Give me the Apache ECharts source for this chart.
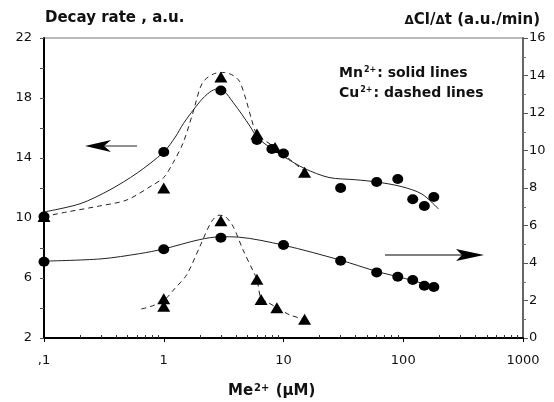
<!DOCTYPE html>
<html>
<head>
<meta charset="utf-8">
<script src="https://cdn.jsdelivr.net/npm/echarts@6/dist/echarts.min.js"></script>
<style>html,body{margin:0;padding:0;background:#fff}#c{width:554px;height:402px}</style>
</head>
<body>
<div id="c"></div>
<script>
// axis ticks
const xTicks = [0.1, 1, 10, 100, 1000];
const xTickLabels = [',1', '1', '10', '100', '1000'];
const leftTicks = [2, 6, 10, 14, 18, 22];
const leftMinorTicks = [2, 4, 6, 8, 10, 12, 14, 16, 18, 20, 22];

// decay rate (left axis)
const mnDecayX = [0.1, 1, 3, 6, 8, 10, 30, 60, 90, 120, 150, 180];
const mnDecayY = [10.1, 14.4, 18.5, 15.2, 14.6, 14.3, 12.0, 12.4, 12.6, 11.25, 10.8, 11.4];
const cuDecayX = [0.1, 1, 3, 6, 8.5, 15];
const cuDecayY = [10.1, 12.0, 19.4, 15.6, 14.7, 13.05];
const mnDecayFitX = [0.1, 0.2, 0.35, 0.6, 1, 1.25, 1.46, 2, 2.43, 2.8, 3.2, 3.8, 4.5, 5.3, 6, 8, 10, 15, 24, 40, 60, 96, 143, 197];
const mnDecayFitY = [10.4, 10.95, 11.85, 13.0, 14.4, 15.4, 16.3, 17.75, 18.4, 18.6, 18.45, 17.7, 16.9, 16.07, 15.4, 14.6, 14.1, 13.3, 12.7, 12.55, 12.4, 12.1, 11.6, 10.6];
const cuDecayFitX = [0.1, 0.155, 0.29, 0.49, 0.81, 1, 1.2, 1.45, 1.75, 2.1, 2.6, 3.2, 3.8, 4.3, 4.9, 5.4, 6, 8.5, 15];
const cuDecayFitY = [10.1, 10.4, 10.8, 11.2, 12.2, 12.7, 13.7, 15.0, 17.0, 19.0, 19.6, 19.7, 19.5, 19.1, 17.8, 16.6, 15.6, 14.7, 13.1];

// ΔCl/Δt (right axis)
const mnClX = [0.1, 1, 3, 10, 30, 60, 90, 120, 150, 180];
const mnClY = [4.07, 4.73, 5.35, 4.96, 4.12, 3.5, 3.27, 3.09, 2.79, 2.72];
const mnClFitX = [0.1, 0.3, 0.63, 1, 2, 3, 4.2, 10, 30, 60, 100, 185];
const mnClFitY = [4.1, 4.22, 4.5, 4.75, 5.25, 5.4, 5.38, 4.95, 4.15, 3.55, 3.2, 2.72];
const cuClX = [1, 1, 3, 6, 6.5, 8.8, 15];
const cuClY = [2.1, 1.7, 6.26, 3.13, 2.06, 1.62, 1.0];
const cuClFitX = [0.65, 0.77, 1, 1.24, 1.55, 2.0, 2.5, 2.9, 3.3, 3.8, 4.6, 5.6, 6, 6.5, 7.2, 8.8, 11.3, 15];
const cuClFitY = [1.55, 1.67, 2.0, 2.65, 3.36, 4.87, 6.2, 6.55, 6.45, 5.94, 4.69, 3.54, 3.13, 2.06, 1.94, 1.62, 1.23, 1.0];

const xMinorTicks = [];
for (let d = 0.1; d < 1000; d *= 10) {
  for (let k = 2; k <= 9; k++) xMinorTicks.push(+(d * k).toPrecision(3));
}

const font = 'DejaVu Sans';
const pair = (xs, ys) => xs.map((x, i) => [x, ys[i]]);

function fitLine(xs, ys, yIdx, dashed) {
  return {
    type: 'line', yAxisIndex: yIdx, data: pair(xs, ys), showSymbol: false, smooth: 0.3,
    lineStyle: { color: '#222', width: 1, type: dashed ? [5, 4] : 'solid' }, z: 2, silent: true
  };
}
function marks(xs, ys, yIdx, symbol, size) {
  return {
    type: 'scatter', yAxisIndex: yIdx, data: pair(xs, ys), symbol: symbol, symbolSize: size,
    itemStyle: { color: '#000', opacity: 1 }, z: symbol === 'triangle' ? 4 : 3
  };
}
const sup = size => ({ font: 'bold ' + size + 'px ' + font, fill: '#111', verticalAlign: 'top', padding: [0, 1, 6, 1] });

const chart = echarts.init(document.getElementById('c'));
chart.setOption({
  animation: false,
  backgroundColor: '#fff',
  grid: { left: 44, right: 31, top: 38, bottom: 64, show: true, borderColor: '#777', borderWidth: 1 },
  xAxis: [{
    type: 'log', logBase: 10, min: 0.1, max: 1000,
    axisLine: { lineStyle: { color: '#000', width: 2 } },
    axisTick: { customValues: xTicks, length: 4, lineStyle: { color: '#000' } },
    axisLabel: {
      customValues: xTicks, margin: 16, color: '#111', fontFamily: font, fontSize: 13,
      formatter: v => xTickLabels[xTicks.findIndex(t => Math.abs(t - v) < 1e-9 * Math.max(1, t))] ?? ''
    },
    splitLine: { show: false }
  }, {
    type: 'log', logBase: 10, min: 0.1, max: 1000, position: 'bottom',
    axisLine: { show: false },
    axisTick: { customValues: xMinorTicks, inside: true, length: 3, lineStyle: { color: '#333' } },
    axisLabel: { show: false }, splitLine: { show: false }
  }],
  yAxis: [{
    type: 'value', min: 2, max: 22, position: 'left',
    axisLine: { show: true, lineStyle: { color: '#000', width: 2 } },
    axisTick: { show: true, customValues: leftMinorTicks, length: 4, lineStyle: { color: '#555' } },
    axisLabel: { customValues: leftTicks, margin: 12, color: '#111', fontFamily: font, fontSize: 13 },
    splitLine: { show: false }
  }, {
    type: 'value', min: 0, max: 16, interval: 2, position: 'right',
    axisLine: { show: true, lineStyle: { color: '#666', width: 2 } },
    axisTick: { show: true, length: 5, lineStyle: { color: '#555' } },
    minorTick: { show: true, splitNumber: 2, length: 3, lineStyle: { color: '#777' } },
    axisLabel: { margin: 6, color: '#111', fontFamily: font, fontSize: 13 },
    splitLine: { show: false }
  }],
  series: [
    fitLine(mnDecayFitX, mnDecayFitY, 0, false),
    fitLine(cuDecayFitX, cuDecayFitY, 0, true),
    fitLine(mnClFitX, mnClFitY, 1, false),
    fitLine(cuClFitX, cuClFitY, 1, true),
    marks(mnDecayX, mnDecayY, 0, 'circle', [11, 10]),
    marks(mnClX, mnClY, 1, 'circle', [11, 10]),
    marks(cuDecayX, cuDecayY, 0, 'triangle', [13, 11]),
    marks(cuClX, cuClY, 1, 'triangle', [13, 11])
  ],
  graphic: [
    { type: 'text', left: 45, top: 11, style: { text: 'Decay rate , a.u.', font: 'bold 15px ' + font, fill: '#111' } },
    { type: 'text', right: 14, top: 13, style: {
      text: '{d|Δ}Cl/{d|Δ}t (a.u./min)', font: 'bold 15px ' + font, fill: '#111',
      rich: { d: { font: 'bold 12px ' + font, fill: '#111' } } } },
    { type: 'text', left: 339, top: 66, style: {
      text: 'Mn{s|2+}: solid lines', font: 'bold 14px ' + font, fill: '#111', rich: { s: sup(8) } } },
    { type: 'text', left: 339, top: 86, style: {
      text: 'Cu{s|2+}: dashed lines', font: 'bold 14px ' + font, fill: '#111', rich: { s: sup(8) } } },
    { type: 'text', left: 228, top: 383, style: {
      text: 'Me{s|2+} (μM)', font: 'bold 15px ' + font, fill: '#111', rich: { s: sup(10) } } },
    // arrows pointing to the axes
    { type: 'line', shape: { x1: 103, y1: 146, x2: 137, y2: 146 }, style: { stroke: '#222', lineWidth: 1 } },
    { type: 'polygon', shape: { points: [[85, 146], [111, 140], [104, 146], [111, 152]] }, style: { fill: '#000' } },
    { type: 'line', shape: { x1: 385, y1: 255, x2: 462, y2: 255 }, style: { stroke: '#555', lineWidth: 1.5 } },
    { type: 'polygon', shape: { points: [[484, 255], [456, 249], [462, 255], [456, 261]] }, style: { fill: '#000' } }
  ]
});
</script>
</body>
</html>
